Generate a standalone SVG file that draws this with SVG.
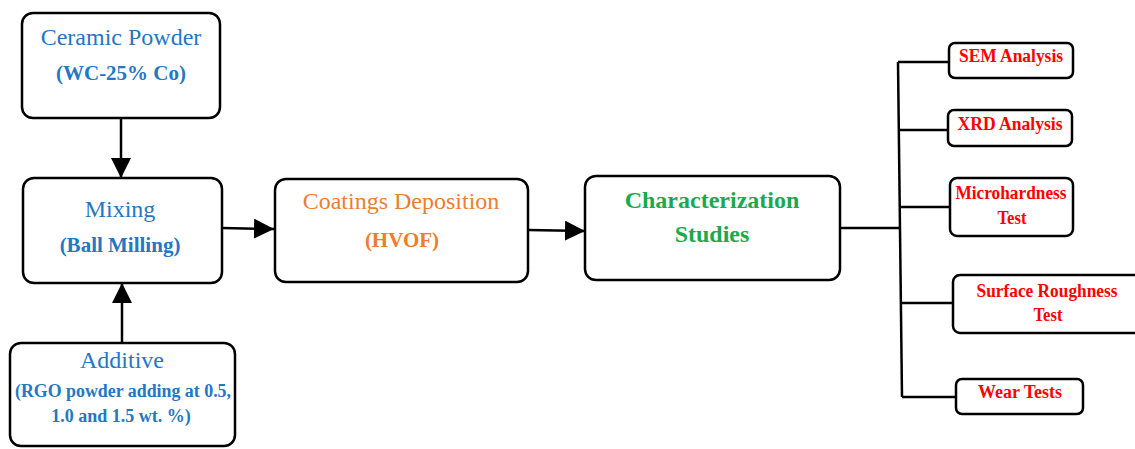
<svg xmlns="http://www.w3.org/2000/svg" width="1135" height="449" viewBox="0 0 1135 449">
<defs>
<marker id="ah" viewBox="0 0 20 20" refX="20" refY="10" markerWidth="20" markerHeight="20" markerUnits="userSpaceOnUse" orient="auto">
<path d="M0,0 L20,10 L0,20 Z" fill="#000"/>
</marker>
<style>
.box{fill:#fff;stroke:#000;stroke-width:2.5}
.ln{fill:none;stroke:#000;stroke-width:2.5}
.ar{fill:none;stroke:#000;stroke-width:2.5;marker-end:url(#ah)}
text{font-family:"Liberation Serif","Times New Roman",serif;text-anchor:middle}
.t{font-size:24px}
.b{font-weight:bold;font-size:21px}
.blue{fill:#2477C3}
.orange{fill:#ED7D31}
.green{fill:#1AAA4E}
.red{fill:#FF0000;font-weight:bold;font-size:18px}
</style>
</defs>
<g id="connectors">
<line class="ar" x1="121" y1="118" x2="121" y2="178"/>
<line class="ar" x1="122" y1="343" x2="122" y2="283"/>
<line class="ar" x1="222" y1="228" x2="274" y2="229"/>
<line class="ar" x1="528" y1="230" x2="585" y2="231"/>
<polyline class="ln" points="840,228 900,228"/>
<polyline class="ln" points="898,62 902,397"/>
<line class="ln" x1="898" y1="62" x2="949" y2="62"/>
<line class="ln" x1="899" y1="130" x2="948" y2="130"/>
<line class="ln" x1="900" y1="207" x2="950" y2="207"/>
<line class="ln" x1="901" y1="303" x2="953" y2="303"/>
<line class="ln" x1="902" y1="397" x2="956" y2="397"/>
</g>
<g id="ceramic">
<rect class="box" x="22" y="13" width="198" height="105" rx="11"/>
<text class="t blue" x="121" y="45">Ceramic Powder</text>
<text class="b blue" x="121" y="80">(WC-25% Co)</text>
</g>
<g id="mixing">
<rect class="box" x="23" y="178" width="199" height="105" rx="11"/>
<text class="t blue" x="120" y="217">Mixing</text>
<text class="b blue" x="120" y="252">(Ball Milling)</text>
</g>
<g id="additive">
<rect class="box" x="10" y="343" width="225" height="103" rx="11"/>
<text class="t blue" x="122" y="368">Additive</text>
<text class="b blue" x="123" y="397" style="font-size:18px" textLength="216" lengthAdjust="spacingAndGlyphs">(RGO powder adding at 0.5,</text>
<text class="b blue" x="121" y="422" style="font-size:18px">1.0 and 1.5 wt. %)</text>
</g>
<g id="coatings">
<rect class="box" x="275" y="179" width="253" height="103" rx="11"/>
<text class="t orange" x="401" y="209">Coatings Deposition</text>
<text class="b orange" x="402" y="247">(HVOF)</text>
</g>
<g id="characterization">
<rect class="box" x="585" y="176" width="255" height="104" rx="11"/>
<text class="t green" x="712" y="208" style="font-weight:bold">Characterization</text>
<text class="t green" x="712" y="242" style="font-weight:bold">Studies</text>
</g>
<g id="sem">
<rect class="box" x="949" y="43" width="124" height="35" rx="6"/>
<text class="red" x="1011" y="62" textLength="104" lengthAdjust="spacingAndGlyphs">SEM Analysis</text>
</g>
<g id="xrd">
<rect class="box" x="948" y="110" width="124" height="36" rx="6"/>
<text class="red" x="1010" y="130" textLength="105" lengthAdjust="spacingAndGlyphs">XRD Analysis</text>
</g>
<g id="micro">
<rect class="box" x="950" y="178" width="123" height="58" rx="7"/>
<text class="red" x="1011" y="199" textLength="111" lengthAdjust="spacingAndGlyphs">Microhardness</text>
<text class="red" x="1012" y="224" textLength="29" lengthAdjust="spacingAndGlyphs">Test</text>
</g>
<g id="surface">
<rect class="box" x="953" y="275" width="190" height="58" rx="7"/>
<text class="red" x="1047" y="297" textLength="141" lengthAdjust="spacingAndGlyphs">Surface Roughness</text>
<text class="red" x="1048" y="321" textLength="29" lengthAdjust="spacingAndGlyphs">Test</text>
</g>
<g id="wear">
<rect class="box" x="956" y="379" width="127" height="35" rx="6"/>
<text class="red" x="1020" y="398" textLength="84" lengthAdjust="spacingAndGlyphs">Wear Tests</text>
</g>
</svg>
